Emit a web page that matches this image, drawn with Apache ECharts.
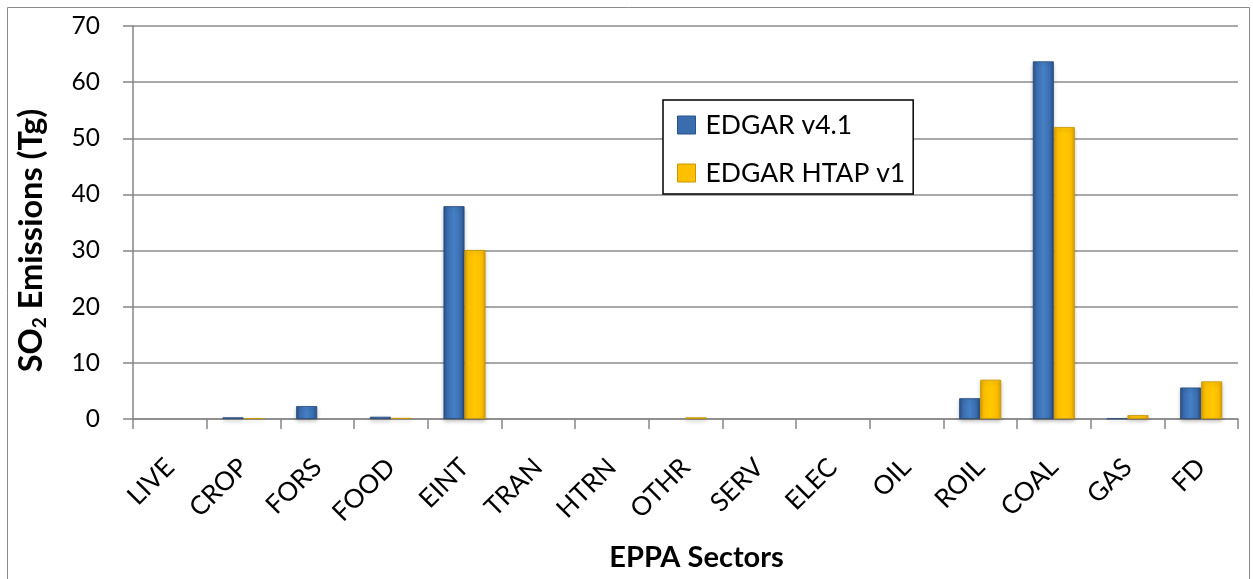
<!DOCTYPE html>
<html>
<head>
<meta charset="utf-8">
<script src="https://cdn.jsdelivr.net/npm/echarts@6/dist/echarts.min.js"></script>
<style>
  html, body { margin: 0; padding: 0; background: #fff; }
  #chart { width: 1253px; height: 579px; }
</style>
</head>
<body>
<div id="chart"></div>
<script>
// sectors and emissions (Tg)
var sectors = ['LIVE', 'CROP', 'FORS', 'FOOD', 'EINT', 'TRAN', 'HTRN', 'OTHR', 'SERV', 'ELEC', 'OIL', 'ROIL', 'COAL', 'GAS', 'FD'];
var edgar41 = [0, 0.3, 2.3, 0.4, 37.9, 0, 0, 0, 0, 0, 0, 3.7, 63.7, 0.1, 5.6];
var edgarHtap = [0, 0.15, 0, 0.2, 30.1, 0, 0, 0.3, 0, 0, 0, 7.0, 52.0, 0.7, 6.7];
var yTicks = [0, 10, 20, 30, 40, 50, 60, 70];

var font = 'Lato, "Open Sans", sans-serif';

// empty sectors draw nothing in the original
function noZero(arr) {
    return arr.map(function (v) { return v === 0 ? null : v; });
}

function bevel(edge, mid, light) {
    return new echarts.graphic.LinearGradient(0, 0, 1, 0, [
        {offset: 0, color: edge},
        {offset: 0.18, color: mid},
        {offset: 0.5, color: light},
        {offset: 0.82, color: mid},
        {offset: 1, color: edge}
    ]);
}

var blueFill = bevel('#2A5189', '#3A6DAE', '#4680C6');
var goldFill = bevel('#D9A200', '#FDBE00', '#FFC800');

var chart = echarts.init(document.getElementById('chart'));

chart.setOption({
    animation: false,
    graphic: [{
        type: 'rect',
        shape: {x: 7.5, y: 7.5, width: 1242, height: 600},
        style: {fill: 'none', stroke: '#8a8a8a', lineWidth: 1},
        silent: true
    }],
    grid: {left: 133, right: 15, top: 26, bottom: 160},
    legend: {
        orient: 'vertical',
        left: 663,
        top: 100,
        padding: [10, 8, 6, 14],
        itemGap: 18,
        itemWidth: 18,
        itemHeight: 18,
        borderColor: '#000',
        borderWidth: 1.5,
        backgroundColor: '#fff',
        icon: 'rect',
        textStyle: {fontFamily: font, fontSize: 26.5, lineHeight: 30, color: '#000', padding: [0, 0, 0, 5]},
        data: [
            {name: 'EDGAR v4.1', itemStyle: {color: '#3A6DAE', borderColor: '#2A5189', borderWidth: 1}},
            {name: 'EDGAR HTAP v1', itemStyle: {color: '#FFC000', borderColor: '#C89600', borderWidth: 1}}
        ]
    },
    xAxis: {
        type: 'category',
        data: sectors,
        name: 'EPPA Sectors',
        nameLocation: 'middle',
        nameGap: 124,
        nameTextStyle: {fontFamily: font, fontSize: 29, fontWeight: 'bold', color: '#000', padding: [0, 0, 0, 22]},
        axisLine: {lineStyle: {color: '#868686', width: 1.5}},
        axisTick: {show: true, length: 10, lineStyle: {color: '#868686', width: 1.5}},
        axisLabel: {rotate: 45, fontFamily: font, fontSize: 26, color: '#000', margin: 44}
    },
    yAxis: {
        type: 'value',
        min: 0,
        max: 70,
        interval: 10,
        name: '{t|SO}{s|2}{t| Emissions (Tg)}',
        nameLocation: 'middle',
        nameRotate: 90,
        nameGap: 84,
        nameTextStyle: {
            padding: [0, 36, 0, 0],
            rich: {
                t: {fontFamily: font, fontSize: 32.5, fontWeight: 'bold', color: '#000'},
                s: {fontFamily: font, fontSize: 19, fontWeight: 'bold', color: '#000', padding: [15, 0, 0, 0]}
            }
        },
        axisLine: {show: true, lineStyle: {color: '#868686', width: 1.5}},
        axisTick: {show: true, length: 10, lineStyle: {color: '#868686', width: 1.5}},
        splitLine: {lineStyle: {color: '#8c8c8c', width: 1.5}},
        axisLabel: {
            fontFamily: font, fontSize: 24.5, color: '#000', margin: 33,
            formatter: function (v) { return yTicks.indexOf(v) >= 0 ? String(v) : ''; }
        }
    },
    series: [{
        name: 'EDGAR v4.1',
        type: 'bar',
        data: noZero(edgar41),
        barGap: '0%',
        barCategoryGap: '43%',
        itemStyle: {
            color: blueFill, borderColor: '#27497A', borderWidth: 0.8,
            shadowColor: 'rgba(0,0,0,0.25)', shadowBlur: 4, shadowOffsetY: 2
        }
    }, {
        name: 'EDGAR HTAP v1',
        type: 'bar',
        data: noZero(edgarHtap),
        itemStyle: {
            color: goldFill, borderColor: '#C89600', borderWidth: 0.8,
            shadowColor: 'rgba(0,0,0,0.25)', shadowBlur: 4, shadowOffsetY: 2
        }
    }]
});
</script>
</body>
</html>
